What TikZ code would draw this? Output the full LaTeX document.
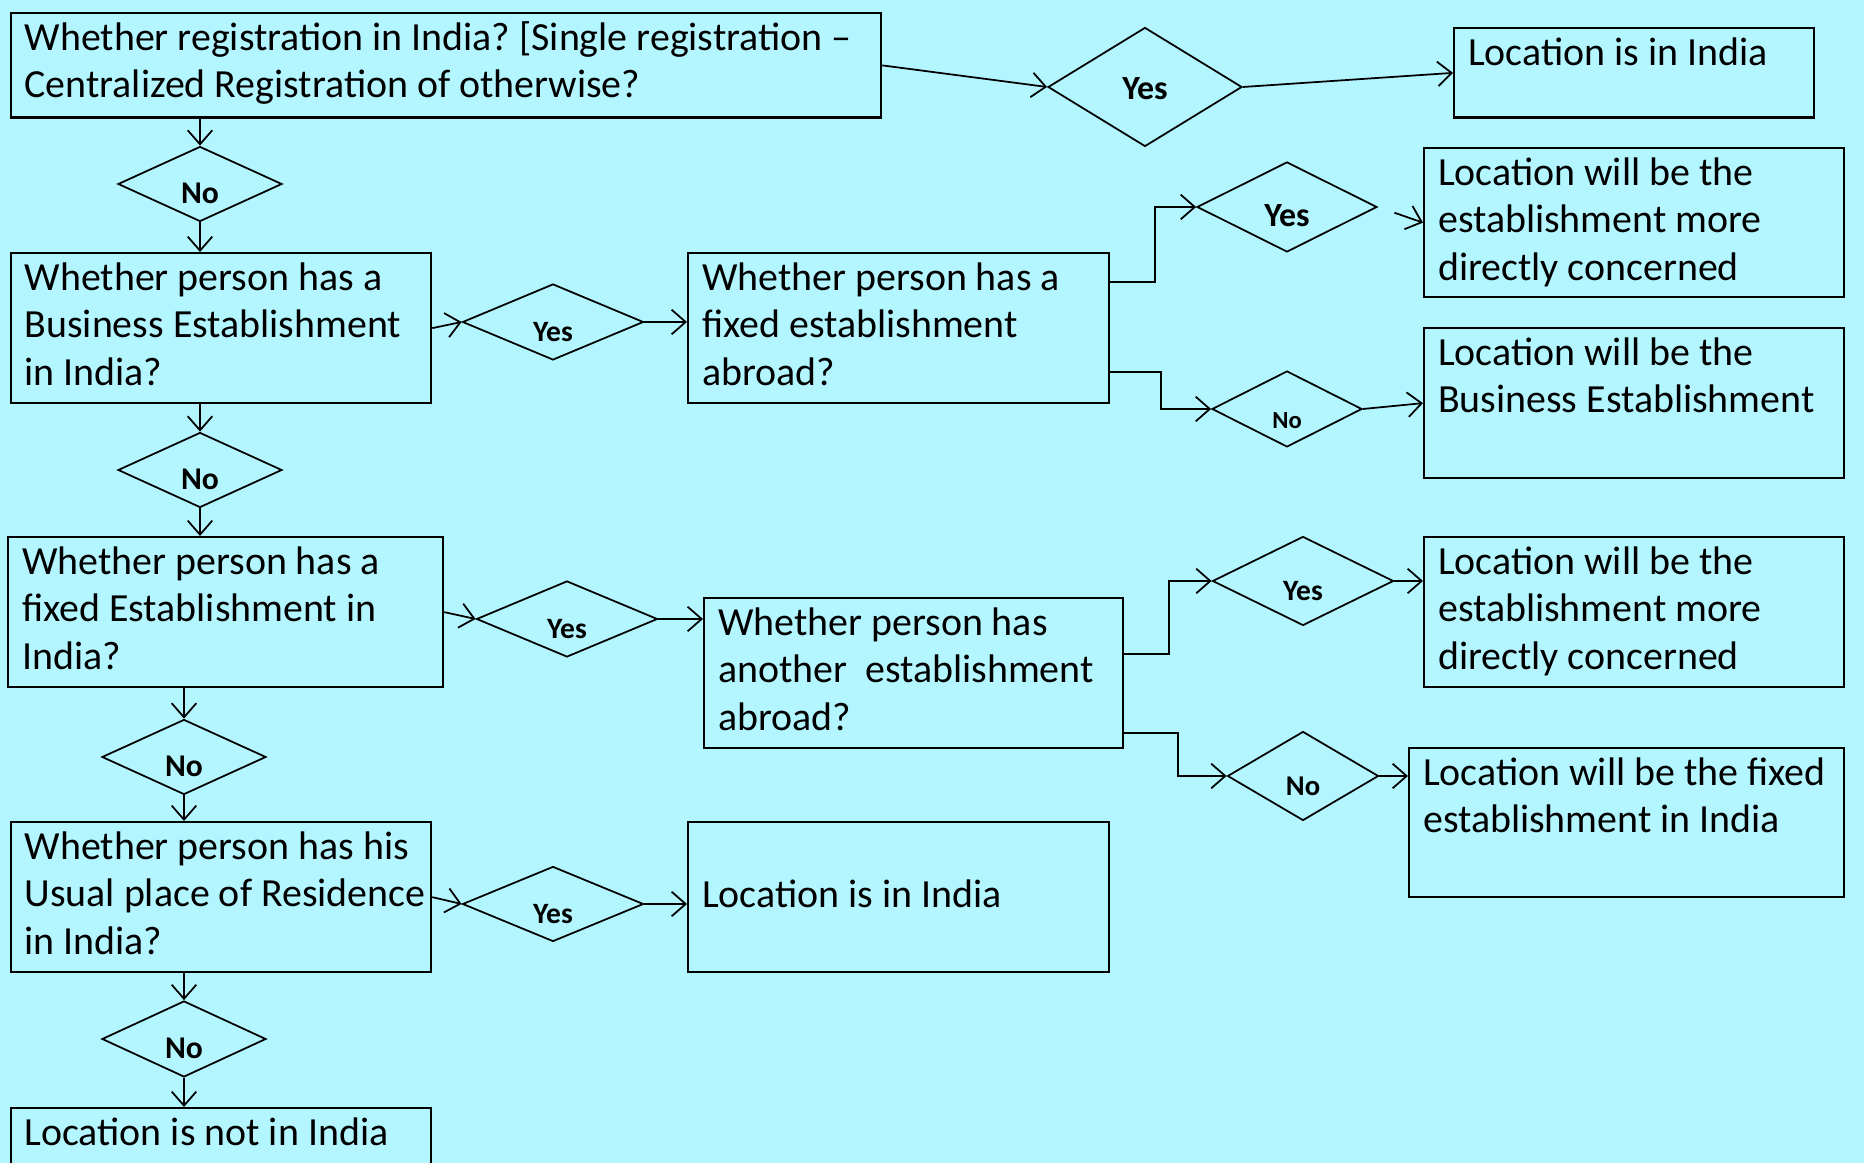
\documentclass[tikz,border=0pt]{standalone}
\usepackage{fontspec}
\setmainfont{Carlito}
\usetikzlibrary{shapes.geometric}
\usetikzlibrary{arrows.meta}
\definecolor{bgcyan}{RGB}{179,246,255}
\frenchspacing

\begin{document}
\begin{tikzpicture}[
box/.style={draw=black,line width=1.3pt,anchor=north west,align=left,inner xsep=0.28cm,inner ysep=0pt,text height=0.74cm,font=\fontsize{22.7}{27.2}\selectfont,execute at begin node={\spaceskip=0pt\xspaceskip=0pt}},
dec/.style={draw=black,line width=1pt,diamond,aspect=2,inner sep=0pt,text height=22pt,text depth=0pt,font=\bfseries\fontsize{#1}{#1}\selectfont},
arr/.style={line width=1pt,-{Straight Barb[length=8pt,width=14pt]}}]
\fill[bgcyan] (0,0) rectangle (37.28,23.26);
\useasboundingbox (0,0) rectangle (37.28,23.26);

% question boxes, left column
\node[box,text width=16.85cm,text depth=1.35cm] (qreg) at (0.19,23.02) {\mbox{Whether registration in India? [Single registration --}\\Centralized Registration of otherwise?};
\node[box,text width=7.85cm,text depth=2.26cm] (qbe) at (0.19,18.22) {Whether person has a\\Business Establishment\\in India?};
\node[box,text width=8.14cm,text depth=2.26cm] (qfe) at (0.14,12.54) {Whether person has a\\fixed Establishment in\\India?};
\node[box,text width=7.85cm,text depth=2.26cm] (qur) at (0.19,6.84) {\mbox{Whether person has his}\\\mbox{Usual place of Residence}\\in India?};
\node[box,text width=7.85cm,text depth=0.76cm] (locG) at (0.19,1.12) {Location is not in India};

% middle column
\node[box,text width=7.86cm,text depth=2.26cm] (qfa) at (13.74,18.22) {Whether person has a\\fixed establishment\\abroad?};
\node[box,text width=7.82cm,text depth=2.26cm] (qae) at (14.06,11.32) {Whether person has\\another~ establishment\\abroad?};
\node[box,text width=7.86cm,text height=1.71cm,text depth=1.29cm] (locF) at (13.74,6.84) {Location is in India};

% results, right column
\node[box,text width=6.64cm,text depth=1.05cm] (locA) at (29.06,22.72) {Location is in India};
\node[box,text width=7.84cm,text depth=2.24cm] (locB) at (28.46,20.32) {Location will be the\\establishment more\\directly concerned};
\node[box,text width=7.84cm,text depth=2.26cm] (locC) at (28.46,16.72) {Location will be the\\Business Establishment};
\node[box,text width=7.84cm,text depth=2.26cm] (locD) at (28.46,12.54) {Location will be the\\establishment more\\directly concerned};
\node[box,text width=8.14cm,text depth=2.24cm] (locE) at (28.16,8.32) {\mbox{Location will be the fixed}\\establishment in India};

% decisions
\node[dec=19.3,minimum width=3.88cm,minimum height=2.38cm,text height=14pt] (y1) at (22.9,21.52) {Yes};
\node[dec=18,minimum width=3.28cm,minimum height=1.5cm] (n1) at (4.0,19.58) {No};
\node[dec=16.8,minimum width=3.62cm,minimum height=1.52cm] (y2) at (11.06,16.82) {Yes};
\node[dec=19.3,minimum width=3.6cm,minimum height=1.8cm] (y3) at (25.74,19.12) {Yes};
\node[dec=14,minimum width=3.0cm,minimum height=1.52cm] (n3) at (25.74,15.08) {No};
\node[dec=18,minimum width=3.28cm,minimum height=1.5cm] (n2) at (4.0,13.86) {No};
\node[dec=16.8,minimum width=3.62cm,minimum height=1.52cm] (y4) at (11.34,10.88) {Yes};
\node[dec=16.8,minimum width=3.62cm,minimum height=1.78cm] (y5) at (26.06,11.64) {Yes};
\node[dec=16.3,minimum width=3.02cm,minimum height=1.78cm] (n5) at (26.06,7.74) {No};
\node[dec=18,minimum width=3.28cm,minimum height=1.5cm] (n4) at (3.68,8.12) {No};
\node[dec=16.8,minimum width=3.62cm,minimum height=1.5cm] (y6) at (11.06,5.18) {Yes};
\node[dec=18,minimum width=3.28cm,minimum height=1.52cm] (n6) at (3.68,2.48) {No};

% connectors
\draw[arr] (qreg.east) -- (y1.west);
\draw[arr] (y1.east) -- (locA.west);
\draw[arr] (qreg.south -| n1.north) -- (n1.north);
\draw[arr] (n1.south) -- (qbe.north -| n1.south);
\draw[arr] (qbe.east) -- (y2.west);
\draw[arr] (y2.east) -- (qfa.west |- y2.east);
\draw[arr] ([yshift=-0.6cm]qfa.north east) -- ++(0.9,0) |- (y3.west);
\draw[arr,shorten <=0.35cm] (y3.east) -- (locB.west);
\draw[arr] ([yshift=0.64cm]qfa.south east) -- ++(1.02,0) |- (n3.west);
\draw[arr] (n3.east) -- (locC.west);
\draw[arr] (qbe.south -| n2.north) -- (n2.north);
\draw[arr] (n2.south) -- (qfe.north -| n2.south);
\draw[arr] (qfe.east) -- (y4.west);
\draw[arr] (y4.east) -- (qae.west |- y4.east);
\draw[arr] ([yshift=-1.14cm]qae.north east) -- ++(0.9,0) |- (y5.west);
\draw[arr] ([yshift=0.32cm]qae.south east) -- ++(1.08,0) |- (n5.west);
\draw[arr] (y5.east) -- (locD.west |- y5.east);
\draw[arr] (n5.east) -- (locE.west |- n5.east);
\draw[arr] (qfe.south -| n4.north) -- (n4.north);
\draw[arr] (n4.south) -- (qur.north -| n4.south);
\draw[arr] (qur.east) -- (y6.west);
\draw[arr] (y6.east) -- (locF.west |- y6.east);
\draw[arr] (qur.south -| n6.north) -- (n6.north);
\draw[arr] (n6.south) -- (locG.north -| n6.south);
\end{tikzpicture}
\end{document}
